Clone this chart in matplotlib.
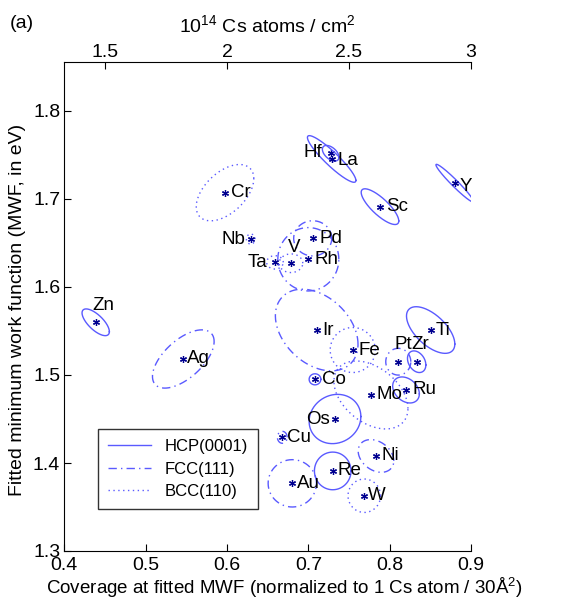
import numpy as np
import matplotlib
matplotlib.use("Agg")
import matplotlib.pyplot as plt
from matplotlib.lines import Line2D

plt.rcParams['font.family'] = ['Liberation Sans', 'DejaVu Sans']
plt.rcParams['mathtext.fontset'] = 'custom'
plt.rcParams['mathtext.rm'] = 'Liberation Sans'
plt.rcParams['mathtext.it'] = 'Liberation Sans:italic'

# ---- data ----
elements = ['Hf', 'La', 'Sc', 'Y', 'Zn', 'Ti', 'Zr', 'Co', 'Ru', 'Os', 'Re',
            'Ag', 'Pd', 'Rh', 'Ir', 'Pt', 'Cu', 'Ni', 'Au',
            'Cr', 'Nb', 'Ta', 'V', 'Fe', 'Mo', 'W']
structure = ['HCP'] * 11 + ['FCC'] * 8 + ['BCC'] * 7
coverage = [0.7275, 0.7287, 0.7881, 0.8800, 0.4386, 0.8504, 0.8332, 0.7082, 0.8201, 0.7328, 0.7300,
            0.5463, 0.7054, 0.7000, 0.7103, 0.8106, 0.6680, 0.7832, 0.6803,
            0.5976, 0.6292, 0.6590, 0.6787, 0.7546, 0.7770, 0.7688]
mwf = [1.752, 1.7455, 1.6913, 1.718, 1.5599, 1.5511, 1.5151, 1.4951, 1.483, 1.450, 1.391,
       1.5182, 1.6553, 1.6315, 1.5511, 1.5151, 1.4292, 1.408, 1.3769,
       1.7072, 1.6545, 1.628, 1.627, 1.5284, 1.4773, 1.3628]
sig_cov = [0.0102, 0.0298, 0.0231, 0.0231, 0.0168, 0.0297, 0.0113, 0.0072, 0.0164, 0.0318, 0.0225,
           0.0379, 0.0234, 0.0375, 0.0508, 0.0154, 0.0060, 0.0219, 0.0297,
           0.0354, 0.0053, 0.0102, 0.0145, 0.0277, 0.0455, 0.0200]
sig_mwf = [0.0089, 0.0265, 0.0203, 0.0214, 0.0152, 0.0265, 0.0123, 0.0063, 0.0148, 0.0280, 0.0214,
           0.0331, 0.0200, 0.0360, 0.0464, 0.0152, 0.0068, 0.0186, 0.0269,
           0.0320, 0.0057, 0.0076, 0.0106, 0.0256, 0.0386, 0.0190]
corr = [-0.5, -0.92, -0.8, -0.97, -0.7, -0.6, -0.3, 0.0, -0.3, 0.1, 0.0,
        0.6, 0.0, 0.0, -0.35, 0.0, 0.0, -0.3, 0.0,
        0.5, 0.0, 0.0, 0.0, 0.0, -0.4, 0.0]
# label offsets (pixels) and alignment
label_dx = [-8, 6, 6, 5, -3, 5, -5, 7, 6, -5, 5,
            4, 7, 6, 6, -4, 5, 6, 5,
            6, -5, -8, -3, 6, 6, 4]
label_dy = [1, -2, 0, -3, 17, 0, 17, 0, 0, -1, 0,
            0, 0, 0, 0, 17, 0, 0, 0,
            0, 0, 0, 16, 0, 0, 0]
label_ha = ['right', 'left', 'left', 'left', 'left', 'left', 'left', 'left', 'left', 'right', 'left',
            'left', 'left', 'left', 'left', 'left', 'left', 'left', 'left',
            'left', 'right', 'right', 'left', 'left', 'left', 'left']

styles = {'HCP': '-', 'FCC': (0, (6, 3, 1, 3)), 'BCC': (0, (1, 2.5))}
legend_labels = {'HCP': 'HCP(0001)', 'FCC': 'FCC(111)', 'BCC': 'BCC(110)'}
x_ticks = [0.4, 0.5, 0.6, 0.7, 0.8, 0.9]
y_ticks = [1.3, 1.4, 1.5, 1.6, 1.7, 1.8]
top_ticks = [1.5, 2, 2.5, 3]

ell_color = '#5a5aff'
star_color = '#000090'

fig = plt.figure(figsize=(5.86, 6.08), dpi=100)
ax = fig.add_axes([64.3 / 586, 57 / 608, (471 - 64.3) / 586, (551 - 62) / 608])

t = np.linspace(0, 2 * np.pi, 300)
for i, el in enumerate(elements):
    cx, cy = coverage[i], mwf[i]
    sx, sy, r = sig_cov[i], sig_mwf[i], corr[i]
    xe = cx + sx * np.cos(t)
    ye = cy + sy * (r * np.cos(t) + np.sqrt(1 - r ** 2) * np.sin(t))
    ax.plot(xe, ye, color=ell_color, lw=1.0, linestyle=styles[structure[i]])
    ax.plot([cx], [cy], marker=(6, 2, 0), color=star_color, markersize=5,
            markeredgewidth=0.9, linestyle='none')
    ax.annotate(el, (cx, cy), xytext=(label_dx[i], label_dy[i]), textcoords='offset pixels',
                ha=label_ha[i], va='center', fontsize=13.5, color='black')

ax.set_xlim(0.4, 0.9)
ax.set_ylim(1.3, 1.3 + (551 - 62) / 880)
ax.set_xticks(x_ticks)
ax.set_xticklabels([f'{v:g}' for v in x_ticks])
ax.set_yticks(y_ticks)
ax.set_yticklabels([f'{v:g}' for v in y_ticks])
ax.tick_params(direction='in', length=5, labelsize=14)
ax.tick_params(axis='x', pad=4)
ax.tick_params(axis='y', pad=3)
ax.spines['right'].set_visible(False)
ax.spines['top'].set_visible(False)

sec = ax.secondary_xaxis('top', functions=(lambda x: x * 10 / 3, lambda x: x * 0.3))
sec.set_xticks(top_ticks)
sec.set_xticklabels([f'{v:g}' for v in top_ticks])
sec.tick_params(direction='in', length=5, labelsize=14, pad=1)
sec.set_xlabel('$10^{14}$ Cs atoms / cm$^2$', fontsize=14, labelpad=8)

ax.set_xlabel('Coverage at fitted MWF (normalized to 1 Cs atom / 30Å$^2$)', fontsize=13.5)
ax.xaxis.set_label_coords((284.5 - 64.3) / 406.7, -(588 - 551) / 489)
ax.xaxis.label.set_va('center')
ax.set_ylabel('Fitted minimum work function (MWF, in eV)', fontsize=14)
ax.yaxis.set_label_coords(-(64.3 - 18) / 406.7, (551 - 310) / 489)
ax.yaxis.label.set_va('center')

handles = [Line2D([], [], color=ell_color, lw=1.0, linestyle=styles[k]) for k in ['HCP', 'FCC', 'BCC']]
leg = ax.legend(handles, [legend_labels[k] for k in ['HCP', 'FCC', 'BCC']],
                loc='lower left', bbox_to_anchor=((97.7 - 64.3) / 406.7, (551 - 509.3) / 489),
                borderaxespad=0, fontsize=12, frameon=True, fancybox=False, edgecolor='black',
                handlelength=2.6, borderpad=0.6, labelspacing=0.45)
leg.get_frame().set_linewidth(1.0)

fig.text(10 / 586, 1 - 24 / 608, '(a)', fontsize=14, va='center', ha='left')

fig.savefig('out.png', dpi=100)
